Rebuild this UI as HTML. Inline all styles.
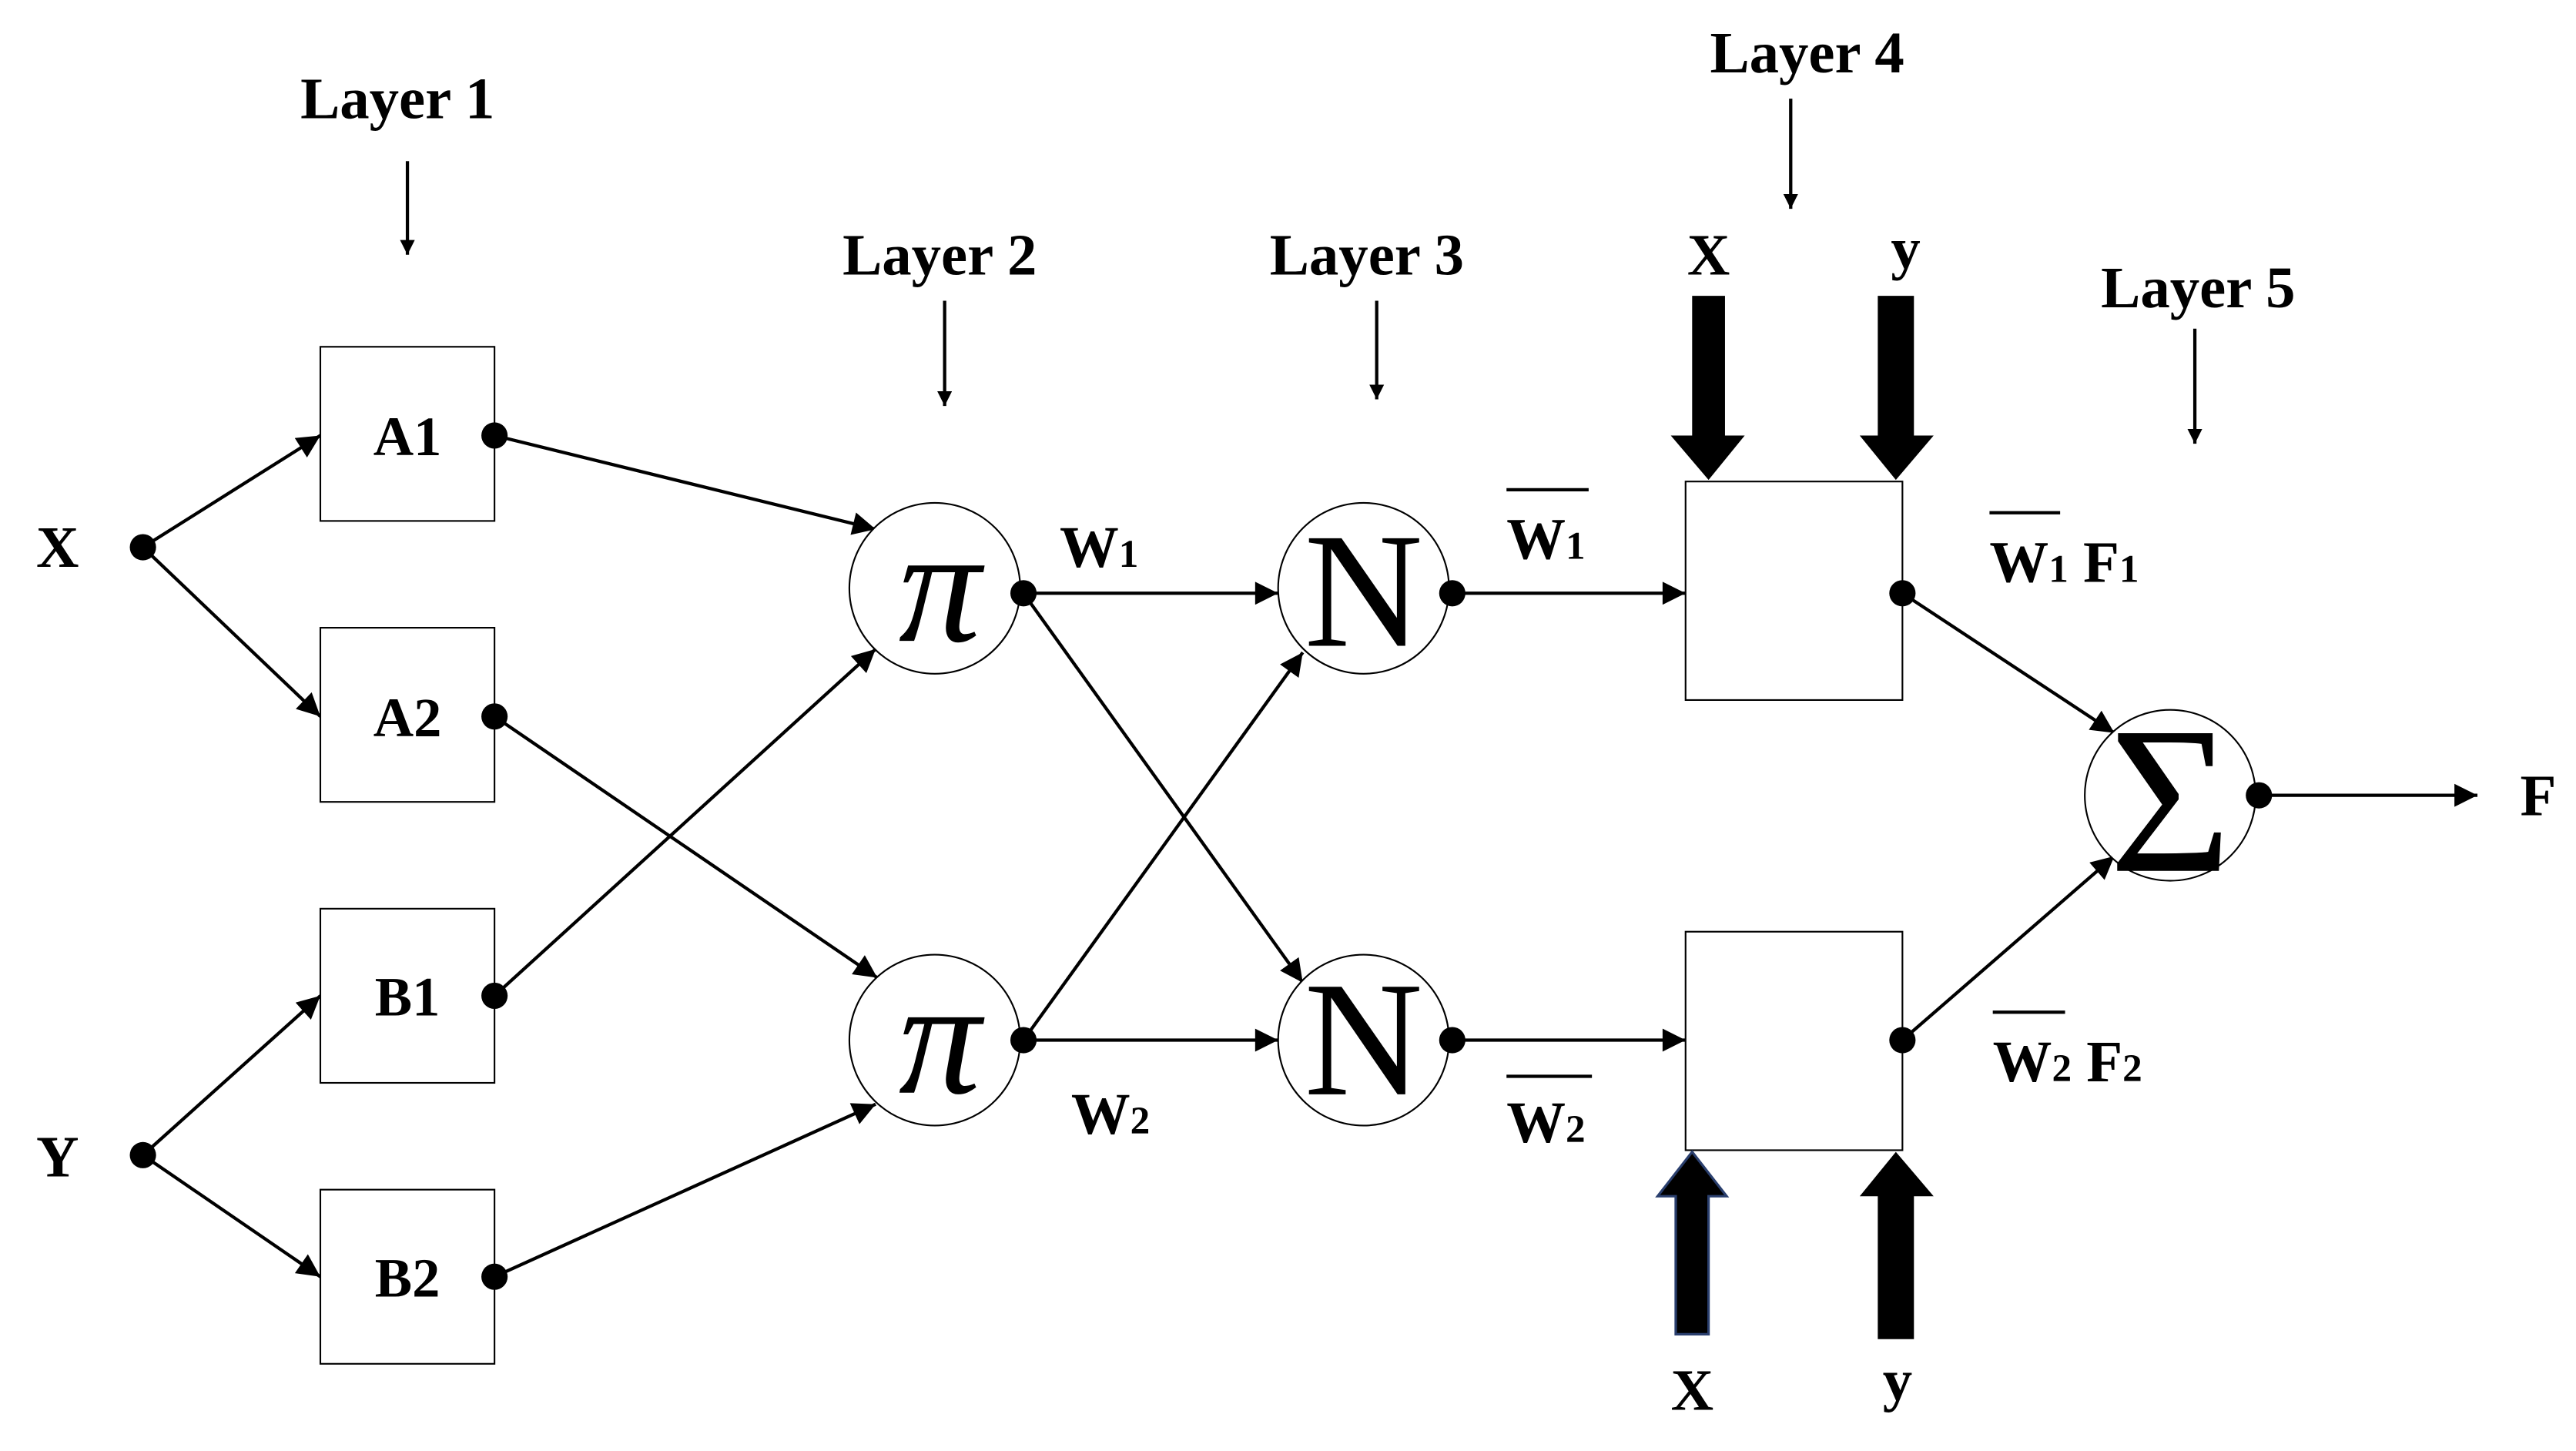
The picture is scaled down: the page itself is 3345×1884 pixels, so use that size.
<!DOCTYPE html>
<html><head><meta charset="utf-8"><style>
html,body{margin:0;padding:0;background:#fff;}
svg{display:block;}
text{font-family:"Liberation Serif","DejaVu Serif",serif;font-weight:bold;fill:#000;}
</style></head><body>
<svg width="3345" height="1884" viewBox="0 0 1568 883" xmlns="http://www.w3.org/2000/svg">
<defs>
<marker id="ah" viewBox="0 0 10 10" refX="10" refY="5" markerWidth="9" markerHeight="9" markerUnits="userSpaceOnUse" orient="auto"><path d="M0,0 L10,5 L0,10 z" fill="#000"/></marker>
<marker id="ah2" viewBox="0 0 10 10" refX="10" refY="5" markerWidth="18" markerHeight="14" markerUnits="userSpaceOnUse" orient="auto"><path d="M0,0 L10,5 L0,10 z" fill="#000"/></marker>
</defs>
<g stroke="#000" stroke-width="2" fill="none">
<line x1="248" y1="98" x2="248" y2="155" marker-end="url(#ah)"/>
<line x1="575" y1="183" x2="575" y2="247" marker-end="url(#ah)"/>
<line x1="838" y1="183" x2="838" y2="243" marker-end="url(#ah)"/>
<line x1="1090" y1="60" x2="1090" y2="127" marker-end="url(#ah)"/>
<line x1="1336" y1="200" x2="1336" y2="270" marker-end="url(#ah)"/>
<line x1="87" y1="333" x2="195" y2="265" marker-end="url(#ah2)"/>
<line x1="87" y1="333" x2="195" y2="436" marker-end="url(#ah2)"/>
<line x1="87" y1="703" x2="195" y2="606" marker-end="url(#ah2)"/>
<line x1="87" y1="703" x2="195" y2="777" marker-end="url(#ah2)"/>
<line x1="301" y1="265" x2="533" y2="322" marker-end="url(#ah2)"/>
<line x1="301" y1="606" x2="533" y2="395" marker-end="url(#ah2)"/>
<line x1="301" y1="436" x2="534" y2="595" marker-end="url(#ah2)"/>
<line x1="301" y1="777" x2="533" y2="672" marker-end="url(#ah2)"/>
<line x1="623" y1="361" x2="778" y2="361" marker-end="url(#ah2)"/>
<line x1="623" y1="361" x2="793" y2="598" marker-end="url(#ah2)"/>
<line x1="623" y1="633" x2="793" y2="397" marker-end="url(#ah2)"/>
<line x1="623" y1="633" x2="778" y2="633" marker-end="url(#ah2)"/>
<line x1="884" y1="361" x2="1026" y2="361" marker-end="url(#ah2)"/>
<line x1="884" y1="633" x2="1026" y2="633" marker-end="url(#ah2)"/>
<line x1="1158" y1="361" x2="1287" y2="446" marker-end="url(#ah2)"/>
<line x1="1158" y1="633" x2="1287" y2="521" marker-end="url(#ah2)"/>
<line x1="1375" y1="484" x2="1508" y2="484" marker-end="url(#ah2)"/>
</g>
<g stroke="#000" stroke-width="1" fill="#fff">
<rect x="195" y="211" width="106" height="106"/>
<rect x="195" y="382" width="106" height="106"/>
<rect x="195" y="553" width="106" height="106"/>
<rect x="195" y="724" width="106" height="106"/>
<circle cx="569" cy="358" r="52"/>
<circle cx="569" cy="633" r="52"/>
<circle cx="830" cy="358" r="52"/>
<circle cx="830" cy="633" r="52"/>
<rect x="1026" y="293" width="132" height="133"/>
<rect x="1026" y="567" width="132" height="133"/>
<circle cx="1321" cy="484" r="52"/>
</g>
<g fill="#000">
<path d="M1030,180 H1050 V265 H1062 L1040,292 L1017,265 H1030 Z"/>
<path d="M1143,180 H1165 V265 H1177 L1154,292 L1132,265 H1143 Z"/>
<path d="M1020,812 H1040 V728 H1051 L1030,701 L1009,728 H1020 Z" stroke="#2a3f6e" stroke-width="1.5"/>
<path d="M1143,815 H1165 V728 H1177 L1154,701 L1132,728 H1143 Z"/>
</g>
<g fill="#000">
<circle cx="87" cy="333" r="8"/><circle cx="87" cy="703" r="8"/>
<circle cx="301" cy="265" r="8"/><circle cx="301" cy="436" r="8"/>
<circle cx="301" cy="606" r="8"/><circle cx="301" cy="777" r="8"/>
<circle cx="623" cy="361" r="8"/><circle cx="623" cy="633" r="8"/>
<circle cx="884" cy="361" r="8"/><circle cx="884" cy="633" r="8"/>
<circle cx="1158" cy="361" r="8"/><circle cx="1158" cy="633" r="8"/>
<circle cx="1375" cy="484" r="8"/>
</g>
<g font-size="36" text-anchor="middle">
<text x="242" y="72">Layer 1</text>
<text x="572" y="167">Layer 2</text>
<text x="832" y="167">Layer 3</text>
<text x="1100" y="44">Layer 4</text>
<text x="1338" y="187">Layer 5</text>
<text x="35" y="345">X</text>
<text x="35" y="716">Y</text>
<text x="1545" y="496">F</text>
<text x="1040" y="167">X</text>
<text x="1160" y="163">y</text>
<text x="1030" y="858">X</text>
<text x="1155" y="852">y</text>
</g>
<g font-size="34" text-anchor="middle">
<text x="248" y="277">A1</text>
<text x="248" y="448">A2</text>
<text x="248" y="618">B1</text>
<text x="248" y="789">B2</text>
</g>
<g text-anchor="middle">
<text x="572" y="390" font-size="100" font-style="italic" style="font-weight:normal">π</text>
<text x="572" y="665" font-size="100" font-style="italic" style="font-weight:normal">π</text>
<text x="830" y="393" font-size="100" style="font-weight:normal">N</text>
<text x="830" y="666" font-size="100" style="font-weight:normal">N</text>
<text x="1321" y="530" font-size="128" style="font-weight:normal">Σ</text>
</g>
<g font-size="36">
<text x="645" y="345">W<tspan font-size="24">1</tspan></text>
<text x="652" y="690">W<tspan font-size="24">2</tspan></text>
<text x="917" y="340">W<tspan font-size="24">1</tspan></text>
<text x="917" y="695">W<tspan font-size="24">2</tspan></text>
<text x="1211" y="354">W<tspan font-size="24">1</tspan> F<tspan font-size="24">1</tspan></text>
<text x="1213" y="658">W<tspan font-size="24">2</tspan> F<tspan font-size="24">2</tspan></text>
</g>
<g stroke="#000" stroke-width="2">
<line x1="917" y1="298" x2="967" y2="298"/>
<line x1="917" y1="655" x2="969" y2="655"/>
<line x1="1211" y1="312" x2="1254" y2="312"/>
<line x1="1213" y1="616" x2="1257" y2="616"/>
</g>
</svg>
</body></html>
